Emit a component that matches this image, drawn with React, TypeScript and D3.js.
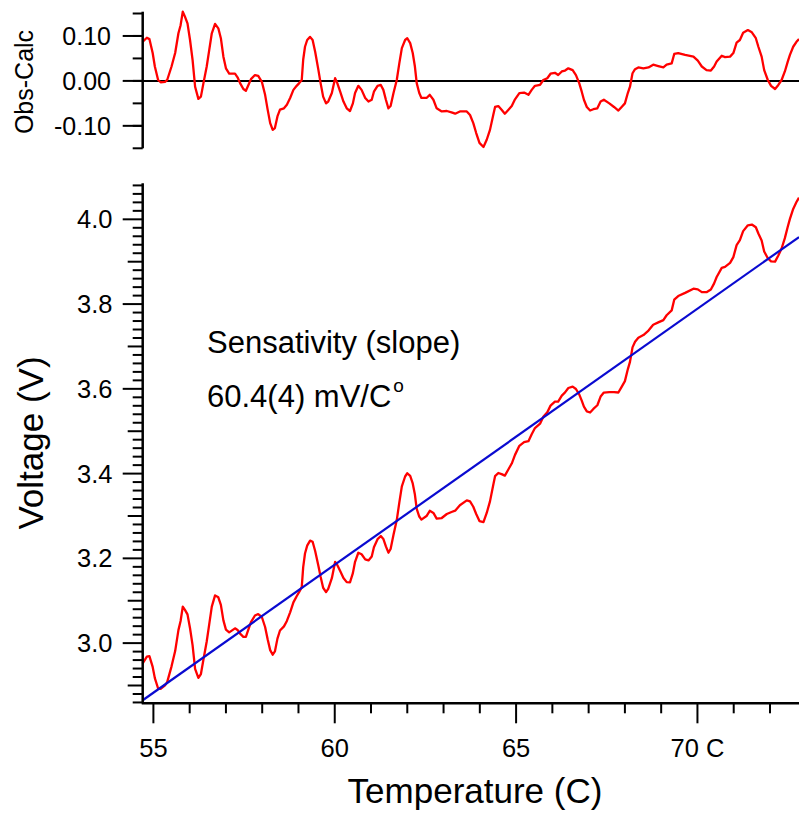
import React, { useEffect, useRef } from 'react';
import * as d3 from 'd3';

// temperature readings (C)
const temps = [
  54.70, 54.82, 54.89, 54.98, 55.04, 55.13, 55.20, 55.32, 55.38, 55.50,
  55.60, 55.69, 55.75, 55.81, 55.87, 55.94, 56.01, 56.08, 56.15, 56.24,
  56.31, 56.38, 56.47, 56.54, 56.61, 56.70, 56.79, 56.86, 56.93, 57.00,
  57.09, 57.25, 57.32, 57.39, 57.48, 57.55, 57.62, 57.69, 57.80, 57.89,
  57.99, 58.08, 58.15, 58.22, 58.29, 58.35, 58.42, 58.49, 58.60, 58.68,
  58.77, 58.86, 58.95, 59.02, 59.09, 59.13, 59.18, 59.24, 59.32, 59.39,
  59.46, 59.55, 59.61, 59.68, 59.76, 59.82, 59.92, 60.01, 60.07, 60.15,
  60.24, 60.33, 60.42, 60.50, 60.56, 60.65, 60.74, 60.84, 60.93, 61.02,
  61.08, 61.18, 61.27, 61.34, 61.41, 61.48, 61.54, 61.62, 61.71, 61.78,
  61.85, 61.94, 62.00, 62.08, 62.15, 62.21, 62.26, 62.33, 62.39, 62.53,
  62.62, 62.72, 62.81, 62.95, 63.09, 63.22, 63.32, 63.45, 63.64, 63.73,
  63.82, 63.90, 63.99, 64.10, 64.19, 64.28, 64.37, 64.42, 64.51, 64.60,
  64.69, 64.79, 64.88, 64.97, 65.09, 65.22, 65.34, 65.43, 65.52, 65.66,
  65.75, 65.86, 65.95, 66.07, 66.16, 66.26, 66.35, 66.44, 66.56, 66.65,
  66.74, 66.81, 66.87, 66.95, 67.04, 67.13, 67.24, 67.33, 67.42, 67.57,
  67.70, 67.82, 67.91, 68.00, 68.08, 68.14, 68.21, 68.28, 68.37, 68.51,
  68.65, 68.78, 68.92, 69.06, 69.15, 69.29, 69.36, 69.47, 69.66, 69.89,
  70.01, 70.12, 70.25, 70.37, 70.46, 70.53, 70.67, 70.76, 70.90, 70.99,
  71.08, 71.17, 71.26, 71.39, 71.50, 71.61, 71.68, 71.77, 71.84, 71.94,
  72.03, 72.14, 72.23, 72.32, 72.41, 72.49, 72.55, 72.64, 72.73, 72.80
];

// obs - calc (V)
const residuals = [
  0.087, 0.096, 0.093, 0.062, 0.032, 0.002, -0.003, -0.002, 0.002, 0.032,
  0.062, 0.106, 0.124, 0.154, 0.143, 0.128, 0.091, 0.047, -0.013, -0.040,
  -0.035, -0.005, 0.032, 0.069, 0.106, 0.127, 0.117, 0.095, 0.054, 0.028,
  0.016, 0.016, 0.008, -0.005, -0.018, -0.022, -0.009, 0.004, 0.013, 0.011,
  -0.002, -0.031, -0.064, -0.094, -0.109, -0.105, -0.079, -0.064, -0.061, -0.053,
  -0.038, -0.020, -0.011, -0.005, 0.002, 0.047, 0.076, 0.091, 0.098, 0.091,
  0.065, 0.024, -0.005, -0.035, -0.050, -0.046, -0.027, 0.006, -0.005, -0.024,
  -0.046, -0.061, -0.067, -0.050, -0.027, -0.011, -0.020, -0.038, -0.046, -0.042,
  -0.024, -0.011, -0.009, -0.020, -0.042, -0.061, -0.056, -0.027, 0.002, 0.039,
  0.073, 0.091, 0.095, 0.084, 0.062, 0.032, -0.005, -0.027, -0.038, -0.038,
  -0.031, -0.042, -0.061, -0.068, -0.067, -0.070, -0.073, -0.068, -0.068, -0.076,
  -0.094, -0.116, -0.138, -0.147, -0.131, -0.109, -0.076, -0.058, -0.056, -0.064,
  -0.073, -0.064, -0.056, -0.041, -0.027, -0.026, -0.031, -0.020, -0.011, -0.009,
  0.002, 0.006, 0.016, 0.018, 0.013, 0.021, 0.023, 0.028, 0.024, 0.013,
  -0.005, -0.024, -0.042, -0.058, -0.066, -0.063, -0.061, -0.046, -0.042, -0.050,
  -0.058, -0.066, -0.058, -0.050, -0.027, -0.013, 0.017, 0.026, 0.030, 0.028,
  0.030, 0.036, 0.033, 0.030, 0.036, 0.039, 0.060, 0.062, 0.058, 0.054,
  0.045, 0.032, 0.024, 0.023, 0.032, 0.043, 0.056, 0.053, 0.054, 0.062,
  0.085, 0.091, 0.107, 0.113, 0.108, 0.095, 0.076, 0.054, 0.024, 0.002,
  -0.011, -0.018, -0.009, 0.002, 0.021, 0.043, 0.058, 0.076, 0.087, 0.093
];

// linear fit: V = intercept + slope * T
const fitSlope = 0.0604;
const fitIntercept = -0.439;

const xMajorTicks = [55, 60, 65, 70];
const xTickLabels = ['55', '60', '65', '70 C'];
const yMajorTicks = [3.0, 3.2, 3.4, 3.6, 3.8, 4.0];
const resMajorTicks = [-0.1, 0.0, 0.1];

const FONT = '"Liberation Sans", Arial, sans-serif';

const App = () => {
  const ref = useRef(null);

  useEffect(() => {
    const svg = d3.select(ref.current);
    svg.selectAll('*').remove();

    const W = 799;
    const x = d3.scaleLinear().domain([54.705, 72.8]).range([142.7, W]);
    const y = d3.scaleLinear().domain([2.858, 4.085]).range([703.3, 183.3]);
    const yr = d3.scaleLinear().domain([-0.15, 0.154]).range([148.3, 11.7]);

    const fit = (t) => fitIntercept + fitSlope * t;
    const pts = temps.map((t, i) => ({ t, r: residuals[i], v: fit(t) + residuals[i] }));

    const axisX = x.range()[0];

    // ---- residual panel ----
    const top = svg.append('g');
    top.append('line')
      .attr('x1', axisX).attr('x2', W)
      .attr('y1', yr(0)).attr('y2', yr(0))
      .attr('stroke', '#000').attr('stroke-width', 2);

    top.append('path')
      .datum(pts)
      .attr('fill', 'none')
      .attr('stroke', '#ff0000')
      .attr('stroke-width', 2.3)
      .attr('stroke-linejoin', 'round')
      .attr('d', d3.line().x(d => x(d.t)).y(d => yr(d.r)));

    const resMinor = d3.range(-0.15, 0.151, 0.05);
    top.selectAll('.rminor').data(resMinor).enter().append('line')
      .attr('x1', axisX - 10).attr('x2', axisX)
      .attr('y1', d => yr(d)).attr('y2', d => yr(d))
      .attr('stroke', '#000').attr('stroke-width', 2);
    top.selectAll('.rmajor').data(resMajorTicks).enter().append('line')
      .attr('x1', axisX - 20).attr('x2', axisX)
      .attr('y1', d => yr(d)).attr('y2', d => yr(d))
      .attr('stroke', '#000').attr('stroke-width', 2);
    top.selectAll('.rlab').data(resMajorTicks).enter().append('text')
      .attr('x', 111).attr('y', d => yr(d) + 9)
      .attr('text-anchor', 'end')
      .style('font-family', FONT).style('font-size', '25px')
      .text(d => d.toFixed(2));
    top.append('line')
      .attr('x1', axisX).attr('x2', axisX)
      .attr('y1', yr.range()[1]).attr('y2', yr.range()[0])
      .attr('stroke', '#000').attr('stroke-width', 2.5);
    top.append('text')
      .attr('transform', `translate(33, ${82}) rotate(-90)`)
      .attr('text-anchor', 'middle')
      .style('font-family', FONT).style('font-size', '25px')
      .text('Obs-Calc');

    // ---- main panel ----
    const main = svg.append('g');

    main.append('path')
      .datum(pts)
      .attr('fill', 'none')
      .attr('stroke', '#ff0000')
      .attr('stroke-width', 2.3)
      .attr('stroke-linejoin', 'round')
      .attr('d', d3.line().x(d => x(d.t)).y(d => y(d.v)));

    const [t0, t1] = x.domain();
    main.append('line')
      .attr('x1', x(t0)).attr('y1', y(fit(t0)))
      .attr('x2', x(t1)).attr('y2', y(fit(t1)))
      .attr('stroke', '#0a0ad0').attr('stroke-width', 2.2);

    // y ticks: minor every 0.02, medium at odd tenths, major every 0.2
    const yMinor = d3.range(2.86, 4.081, 0.02);
    main.selectAll('.yminor').data(yMinor).enter().append('line')
      .attr('x1', d => {
        const k = Math.round(d * 100);
        if (k % 20 === 0) return axisX - 20;
        if (k % 10 === 0) return axisX - 15;
        return axisX - 10;
      })
      .attr('x2', axisX)
      .attr('y1', d => y(d)).attr('y2', d => y(d))
      .attr('stroke', '#000').attr('stroke-width', 2);
    main.selectAll('.ylab').data(yMajorTicks).enter().append('text')
      .attr('x', 112.5).attr('y', d => y(d) + 9)
      .attr('text-anchor', 'end')
      .style('font-family', FONT).style('font-size', '25.5px')
      .text(d => d.toFixed(1));
    main.append('line')
      .attr('x1', axisX).attr('x2', axisX)
      .attr('y1', y.range()[1]).attr('y2', y.range()[0])
      .attr('stroke', '#000').attr('stroke-width', 2.5);

    // x axis
    const xAxisY = y.range()[0];
    const xMinor = d3.range(55, 73, 1);
    main.selectAll('.xminor').data(xMinor).enter().append('line')
      .attr('x1', d => x(d)).attr('x2', d => x(d))
      .attr('y1', xAxisY)
      .attr('y2', d => xMajorTicks.includes(d) ? xAxisY + 20 : xAxisY + 10)
      .attr('stroke', '#000').attr('stroke-width', 2);
    main.selectAll('.xlab').data(xMajorTicks).enter().append('text')
      .attr('x', d => x(d)).attr('y', 757)
      .attr('text-anchor', 'middle')
      .style('font-family', FONT).style('font-size', '25.5px')
      .text((d, i) => xTickLabels[i]);
    main.append('line')
      .attr('x1', axisX - 1).attr('x2', W)
      .attr('y1', xAxisY).attr('y2', xAxisY)
      .attr('stroke', '#000').attr('stroke-width', 2.5);

    main.append('text')
      .attr('x', 475).attr('y', 803)
      .attr('text-anchor', 'middle')
      .style('font-family', FONT).style('font-size', '35px')
      .text('Temperature (C)');
    main.append('text')
      .attr('transform', `translate(43, 443) rotate(-90)`)
      .attr('text-anchor', 'middle')
      .style('font-family', FONT).style('font-size', '35px')
      .text('Voltage (V)');

    // annotation
    main.append('text')
      .attr('x', 207).attr('y', 353)
      .style('font-family', FONT).style('font-size', '31px')
      .text('Sensativity (slope)');
    const ann = main.append('text')
      .attr('x', 207).attr('y', 407)
      .style('font-family', FONT).style('font-size', '31px');
    ann.append('tspan').text(`${(fitSlope * 1000).toFixed(1)}(4) mV/C`);
    ann.append('tspan').attr('dx', 2).attr('dy', -15).style('font-size', '19px').text('o');
  }, []);

  return (
    <div style={{ position: 'absolute', left: 0, top: 0, background: '#fff' }}>
      <svg ref={ref} width={799} height={813}></svg>
    </div>
  );
};

export default App;
